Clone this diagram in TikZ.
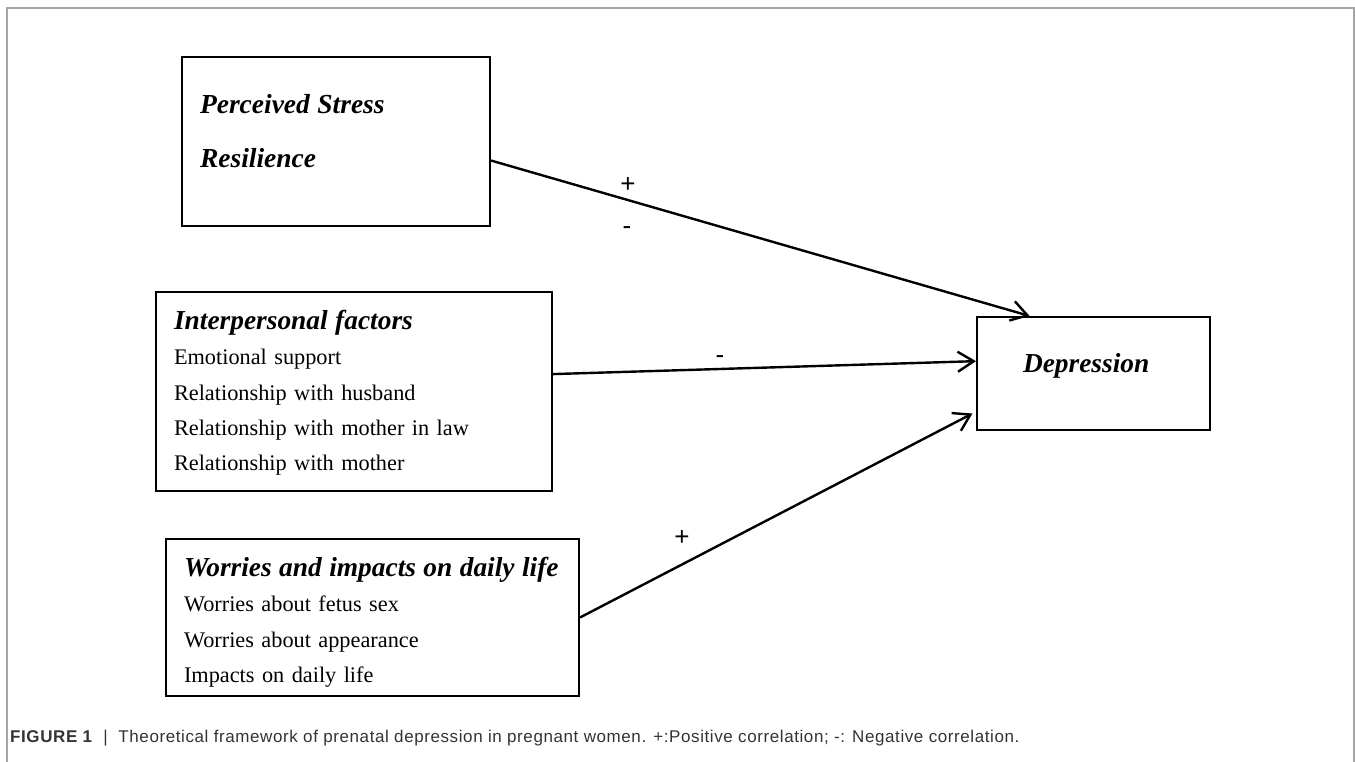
\documentclass[tikz,border=0pt]{standalone}
\usepackage{fontspec}
\setmainfont{Liberation Serif}
\setsansfont{Liberation Sans}
\usetikzlibrary{arrows.meta}
\newcommand{\boxhead}[1]{{\fontsize{27.4}{35.5}\selectfont\bfseries\itshape #1}}

\begin{document}
\begin{tikzpicture}[x=1pt, y=-1pt,
	box/.style={draw, line width=2pt, inner xsep=18pt, inner ysep=0pt, align=left, text height=20pt, font=\fontsize{22.3}{35.5}\selectfont},
	link/.style={-{Straight Barb[length=16pt,width=20pt]}, line width=2.4pt},
	sign/.style={inner sep=0pt, font=\sffamily\fontsize{26}{26}\selectfont}]
 	\useasboundingbox (0,0) rectangle (1355,762);
 	\draw[black!35, line width=2pt] (7,762) -- (7,8) -- (1354,8) -- (1354,762);
 	\node[box, text width=272pt, minimum height=169pt, text depth=75pt] (Stress) at (336,141.5) {\fontsize{27.5}{33}\selectfont\bfseries\itshape Perceived Stress\\[18pt]Resilience};
 	\node[box, text width=360pt, minimum height=199pt, text depth=145pt] (Inter) at (354,391.5) {\boxhead{Interpersonal factors}\\Emotional support\\Relationship with husband\\Relationship with mother in law\\Relationship with mother};
 	\node[box, text width=377pt, minimum height=157pt, text depth=103pt] (Worry) at (372.5,617.5) {\boxhead{Worries and impacts on daily life}\\Worries about fetus sex\\Worries about appearance\\Impacts on daily life};
 	\node[box, inner xsep=46pt, text width=141pt, minimum height=113pt, text depth=23pt] (Depr) at (1093.5,373.5) {\boxhead{Depression}};
 	\node[sign] (StressPlus) at (628,185) {+};
 	\node[sign] (StressMinus) at (627,231) {-};
 	\node[sign] (InterMinus) at (720,360) {-};
 	\node[sign] (WorryPlus) at (682,538) {+};
 	\node[anchor=base west, inner sep=0pt, text=black!80, font=\sffamily\fontsize{17}{18}\selectfont\addfontfeature{LetterSpace=3.5}] (Caption) at (10,742) {\textbf{FIGURE 1} \ | \ Theoretical framework of prenatal depression in pregnant women. +:Positive correlation; -: Negative correlation.};
 	\draw[link] (Stress.-7.2) -- (Depr.138.7);
 	\draw[link] (Inter.5.9) -- (Depr.174.7);
 	\draw[link, shorten >=4pt] (Worry.-0.7) -- (Depr.-162.3);
 	\end{tikzpicture}
\end{document}
